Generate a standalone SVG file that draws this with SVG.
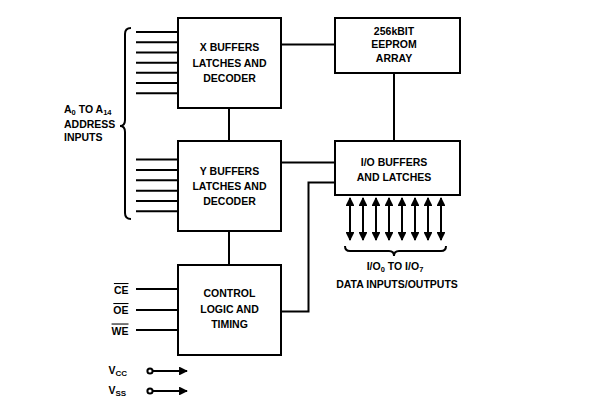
<svg xmlns="http://www.w3.org/2000/svg" width="589" height="408" viewBox="0 0 589 408">
<style>
.box{fill:#fff;stroke:#000;stroke-width:2}
.w{stroke:#000;stroke-width:2;fill:none}
text{font-family:"Liberation Sans",Arial,sans-serif;font-weight:bold;font-size:10.5px;fill:#000}
.c{text-anchor:middle}
.e{text-anchor:end}
.ov{text-decoration:overline}
</style>
<defs>
<marker id="ah" viewBox="0 0 10 10" refX="9" refY="5" markerWidth="4.4" markerHeight="4.4" orient="auto-start-reverse" markerUnits="strokeWidth">
<path d="M0,0 L10,5 L0,10 z" fill="#000"/>
</marker>
</defs>
<rect width="589" height="408" fill="#fff"/>
<g id="connectors">
<path class="w" d="M136,32H178M136,42.3H178M136,52.5H178M136,62.7H178M136,72.8H178M136,83H178M136,93.2H178"/>
<path class="w" d="M136,159.5H178M136,170H178M136,180.3H178M136,190.7H178M136,201H178M136,211.3H178"/>
<path class="w" d="M131,28 Q125,28 125,34 L125,120 Q125,126 120,126 Q125,126 125,132 L125,213 Q125,219 131,219"/>
<path class="w" d="M229,108V141M229,231V265"/>
<path class="w" d="M281,44.5H335"/>
<path class="w" d="M394,73V141"/>
<path class="w" d="M281,162.5H335"/>
<path class="w" d="M281,311.5H308.5V182.5H335"/>
<path class="w" d="M136,289H178M136,310H178M136,330H178"/>
<g class="w" marker-start="url(#ah)" marker-end="url(#ah)">
<path d="M350,198V240"/><path d="M363,198V240"/><path d="M376,198V240"/><path d="M389,198V240"/>
<path d="M402,198V240"/><path d="M415,198V240"/><path d="M428,198V240"/><path d="M441,198V240"/>
</g>
<path class="w" stroke-width="1.5" d="M345,246 Q345,251 350,251 L389,251 Q394,251 394,256 Q394,251 399,251 L441,251 Q446,251 446,246"/>
<circle cx="150" cy="371" r="2.6" class="w" stroke-width="1.5"/>
<path class="w" d="M152.6,371H187" marker-end="url(#ah)"/>
<circle cx="150" cy="391" r="2.6" class="w" stroke-width="1.5"/>
<path class="w" d="M152.6,391H187" marker-end="url(#ah)"/>
</g>
<g id="xbuf">
<rect class="box" x="178" y="18" width="103" height="90"/>
<text class="c" x="229.5" y="51">X BUFFERS</text>
<text class="c" x="229.5" y="66.5">LATCHES AND</text>
<text class="c" x="229.5" y="82">DECODER</text>
</g>
<g id="ybuf">
<rect class="box" x="178" y="141" width="103" height="90"/>
<text class="c" x="229.5" y="175">Y BUFFERS</text>
<text class="c" x="229.5" y="190">LATCHES AND</text>
<text class="c" x="229.5" y="205">DECODER</text>
</g>
<g id="control">
<rect class="box" x="178" y="265" width="103" height="90"/>
<text class="c" x="229.5" y="297">CONTROL</text>
<text class="c" x="229.5" y="312.5">LOGIC AND</text>
<text class="c" x="229.5" y="328">TIMING</text>
</g>
<g id="eeprom">
<rect class="box" x="335" y="18" width="125" height="55"/>
<text class="c" x="394" y="34.5">256kBIT</text>
<text class="c" x="394" y="48">EEPROM</text>
<text class="c" x="394" y="62">ARRAY</text>
</g>
<g id="iobuf">
<rect class="box" x="335" y="141" width="125" height="54"/>
<text class="c" x="394" y="165.5">I/O BUFFERS</text>
<text class="c" x="394" y="180.5">AND LATCHES</text>
</g>
<g id="address-label">
<text x="64" y="112.5">A<tspan font-size="7.5" dy="2">0</tspan><tspan dy="-2"> TO A</tspan><tspan font-size="7.5" dy="2">14</tspan></text>
<text x="64" y="127.5">ADDRESS</text>
<text x="64" y="140.5">INPUTS</text>
</g>
<g id="data-label">
<text class="c" x="395" y="269.5">I/O<tspan font-size="7.5" dy="2">0</tspan><tspan dy="-2"> TO I/O</tspan><tspan font-size="7.5" dy="2">7</tspan></text>
<text class="c" x="397" y="288">DATA INPUTS/OUTPUTS</text>
</g>
<g id="control-pins">
<text class="e ov" x="128.5" y="294">CE</text>
<text class="e ov" x="128.5" y="314">OE</text>
<text class="e ov" x="128.5" y="334.5">WE</text>
</g>
<g id="power">
<text x="108.5" y="374">V<tspan font-size="8" dy="1.5">CC</tspan></text>
<text x="108.5" y="394">V<tspan font-size="8" dy="1.5">SS</tspan></text>
</g>
</svg>
